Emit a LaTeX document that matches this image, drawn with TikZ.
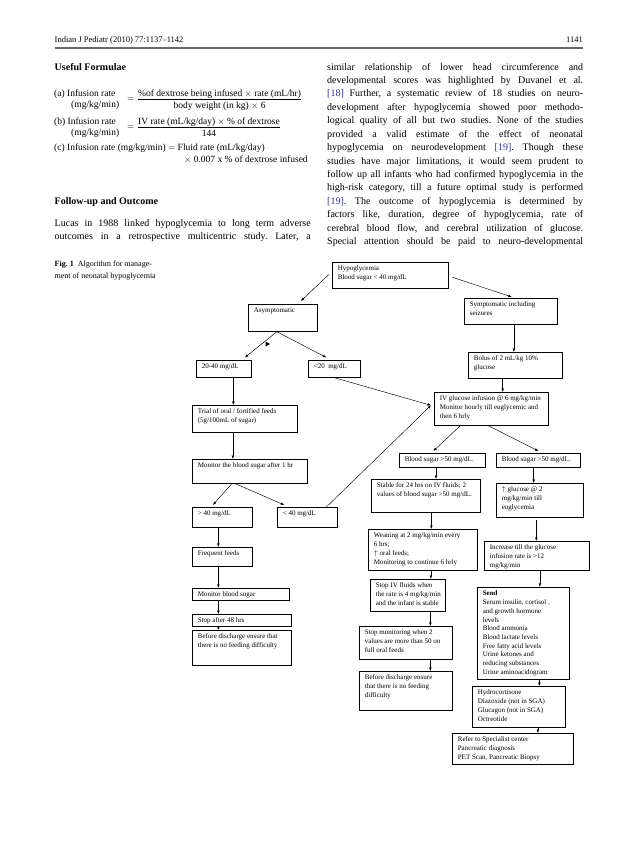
\documentclass[tikz,border=0pt]{standalone}
\usepackage{amsmath}
\usepackage{fontspec}
\setmainfont{Liberation Serif}
\usetikzlibrary{arrows.meta,calc}
\definecolor{CiteBlue}{RGB}{45,45,150}
\definecolor{RuleGray}{RGB}{105,105,105}
\newcommand{\flowfont}{\fontsize{7}{8.7}\selectfont}
\newcommand{\bodyfont}{\fontsize{10}{13.4}\selectfont}
\newcommand{\formfont}{\fontsize{9.5}{11.5}\selectfont}
\frenchspacing
% box text: width, height, lines
\newcommand{\flowtxt}[3]{\parbox[c][\dimexpr #2pt-5pt\relax][t]{\dimexpr #1pt-11pt\relax}{\begin{tabular}[t]{@{}l@{}}#3\end{tabular}}}

\begin{document}
\begin{tikzpicture}[x=1pt, y=-1pt,
    flowbox/.style={rectangle, draw=black, line width=0.7pt, anchor=north west,
        inner xsep=5.5pt, inner ysep=2.5pt, font=\flowfont},
    arr/.style={-{Latex[length=3.5pt, width=2.6pt]}, line width=0.45pt},
    bodyline/.style={anchor=base west, inner sep=0pt, font=\bodyfont},
    formline/.style={anchor=base west, inner sep=0pt, font=\formfont},
    headline/.style={anchor=base west, inner sep=0pt, font=\bodyfont\bfseries},
]
\fill[white] (0,0) rectangle (638,848);
\useasboundingbox (0,0) rectangle (638,848);

% running head
\node[anchor=base west, inner sep=0pt, font=\fontsize{8.5}{10}\selectfont] (runhead) at (54.5,42.5) {Indian J Pediatr (2010) 77:1137--1142};
\node[anchor=base east, inner sep=0pt, font=\fontsize{8.5}{10}\selectfont] (pageno) at (583,42.5) {1141};
\draw[RuleGray, line width=1.3pt] (runhead.base west |- 0,48) -- (pageno.base east |- 0,48);

% left column
\node[headline] (formhead) at (54.5,70.2) {Useful Formulae};
\node[formline] (fa1) at (54,96.2) {(a) Infusion rate};
\node[formline] (fa2) at (71,107.4) {(mg/kg/min)};
\node[formline] (fa3) at (127,101.9) {$=\dfrac{\text{\%of dextrose being infused $\times$ rate (mL/hr)}}{\text{body weight (in kg) $\times$ 6}}$};
\node[formline] (fb1) at (54,124.2) {(b) Infusion rate};
\node[formline] (fb2) at (71,135.2) {(mg/kg/min)};
\node[formline] (fb3) at (127,129.9) {$=\dfrac{\text{IV rate (mL/kg/day) $\times$ \% of dextrose}}{\text{144}}$};
\node[formline] (fc1) at (54,150.2) {(c) Infusion rate (mg/kg/min) $=$ Fluid rate (mL/kg/day)};
\node[formline] (fc2) at (184,162.2) {$\times$ 0.007 x \% of dextrose infused};

\node[headline] (followhead) at (54.5,204.2) {Follow-up and Outcome};
\node[bodyline] (l1) at (54.5,226.5) {\makebox[256pt][s]{Lucas in 1988 linked hypoglycemia to long term adverse}};
\node[bodyline] (l2) at (54.5,239.9) {\makebox[256pt][s]{outcomes in a retrospective multicentric study. Later, a}};

\node[anchor=base west, inner sep=0pt, font=\fontsize{8}{10}\selectfont] (cap1) at (54.5,266) {\textbf{Fig. 1}\ \ Algorithm for manage-};
\node[anchor=base west, inner sep=0pt, font=\fontsize{8}{10}\selectfont] (cap2) at (54.5,278) {ment of neonatal hypoglycemia};

% right column
\foreach \ln [count=\i] in {
    {similar relationship of lower head circumference and},
    {developmental scores was highlighted by Duvanel et al.},
    {{\color{CiteBlue}[18]} Further, a systematic review of 18 studies on neuro-},
    {development after hypoglycemia showed poor methodo-},
    {logical quality of all but two studies. None of the studies},
    {provided a valid estimate of the effect of neonatal},
    {hypoglycemia on neurodevelopment {\color{CiteBlue}[19]}. Though these},
    {studies have major limitations, it would seem prudent to},
    {follow up all infants who had confirmed hypoglycemia in the},
    {high-risk category, till a future optimal study is performed},
    {{\color{CiteBlue}[19]}. The outcome of hypoglycemia is determined by},
    {factors like, duration, degree of hypoglycemia, rate of},
    {cerebral blood flow, and cerebral utilization of glucose.},
    {Special attention should be paid to neuro-developmental}}
    \node[bodyline] (r\i) at (327,{70.2+13.4*(\i-1)}) {\makebox[256pt][s]{\ln}};

% flowchart
\node[flowbox] (hypo) at (332,262) {\flowtxt{116}{26}{Hypoglycemia\\Blood sugar < 40 mg/dL}};
\node[flowbox] (asym) at (248,304) {\flowtxt{69}{27}{Asymptomatic}};
\node[flowbox] (symp) at (464,298) {\flowtxt{93}{26}{Symptomatic including\\seizures}};
\node[flowbox] (b2040) at (196,360) {\flowtxt{55}{17}{20-40 mg/dL}};
\node[flowbox] (lt20) at (308,360) {\flowtxt{52}{17}{<20\ \ mg/dL}};
\node[flowbox] (bolus) at (468,352) {\flowtxt{94}{26}{Bolus of 2 mL/kg 10\%\\glucose}};
\node[flowbox] (iv) at (434,392) {\flowtxt{114}{33}{IV glucose infusion @ 6 mg/kg/min\\Monitor hourly till euglycemic and\\then 6 hrly}};
\node[flowbox] (trial) at (192,405) {\flowtxt{105}{27}{Trial of oral / fortified feeds\\(5g/100mL of sugar)}};
\node[flowbox] (mon1) at (192,459) {\flowtxt{115}{24}{Monitor the blood sugar after 1 hr}};
\node[flowbox] (bsl) at (399,453) {\flowtxt{86}{14}{Blood sugar >50 mg/dL.}};
\node[flowbox] (bsr) at (496,453) {\flowtxt{84}{14}{Blood sugar >50 mg/dL.}};
\node[flowbox] (stable) at (371,479) {\flowtxt{109}{33}{Stable for 24 hrs on IV fluids; 2\\values of blood sugar >50 mg/dL.}};
\node[flowbox] (upglu) at (496,483) {\flowtxt{87}{34}{$\uparrow$ glucose @ 2\\mg/kg/min till\\euglycemia}};
\node[flowbox] (gt40) at (192,507) {\flowtxt{60}{20}{> 40 mg/dL}};
\node[flowbox] (lt40) at (277,507) {\flowtxt{60}{20}{< 40 mg/dL}};
\node[flowbox] (wean) at (368,529) {\flowtxt{109}{41}{Weaning at 2 mg/kg/min every\\6 hrs;\\$\uparrow$ oral feeds;\\Monitoring to continue 6 hrly}};
\node[flowbox] (incr) at (484,541) {\flowtxt{105}{29}{Increase till the glucose\\infusion rate is >12\\mg/kg/min}};
\node[flowbox] (freq) at (192,547) {\flowtxt{60}{19}{Frequent feeds}};
\node[flowbox] (monbs) at (192,588) {\flowtxt{97}{12}{Monitor blood sugar}};
\node[flowbox] (stopiv) at (370,579) {\flowtxt{75}{32}{Stop IV fluids when\\the rate is 4 mg/kg/min\\and the infant is stable}};
\node[flowbox] (send) at (477,587) {\flowtxt{92}{92}{\textbf{Send}\\Serum insulin, cortisol ,\\and growth hormone\\levels\\Blood ammonia\\Blood lactate levels\\Free fatty acid levels\\Urine ketones and\\reducing substances\\Urine aminoacidogram}};
\node[flowbox] (stop48) at (192,614) {\flowtxt{99}{12}{Stop after 48 hrs}};
\node[flowbox] (before1) at (192,630) {\flowtxt{99}{35}{Before discharge ensure that\\there is no feeding difficulty}};
\node[flowbox] (stopmon) at (359,626) {\flowtxt{93}{33}{Stop monitoring when 2\\values are more than 50 on\\full oral feeds}};
\node[flowbox] (before2) at (359,671) {\flowtxt{93}{39}{Before discharge ensure\\that there is no feeding\\difficulty}};
\node[flowbox] (hydro) at (472,686) {\flowtxt{93}{41}{Hydrocortisone\\Diazoxide (not in SGA)\\Glucagon (not in SGA)\\Octreotide}};
\node[flowbox] (refer) at (452,733) {\flowtxt{121}{31}{Refer to Specialist center\\Pancreatic diagnosis\\PET Scan, Pancreatic Biopsy}};

% connectors
\draw[arr] ($(hypo.west)+(-3,-1)$) -- ($(asym.north)+(18,-3)$);
\draw[arr] ($(hypo.east)+(4,2)$) -- ($(symp.north)+(1,-1)$);
\draw[arr] ($(asym.south)+(-6,0)$) -- ($(b2040.north)+(21,-2.5)$);
\draw[arr] ($(asym.south)+(-6,0)$) -- ($(lt20.north)+(-8,-2.5)$);
\fill (265.5,341.5) -- (270,344) -- (265.5,346.5) -- cycle;
\draw[arr] (lt20.south) -- ($(iv.west)+(-3,-3.5)$);
\draw[arr] ($(lt40.north)+(19,0)$) -- ($(iv.west)+(-3,-3.5)$);
\draw[arr] ([xshift=9.5pt]b2040.south) -- ([xshift=9.5pt]b2040.south |- trial.north);
\draw[arr] ([xshift=-12pt]trial.south) -- ([xshift=-12pt]trial.south |- mon1.north);
\draw[arr] ([xshift=-18pt]mon1.south) -- ($(gt40.north)+(-9.5,-2)$);
\draw[arr] ([xshift=-14.5pt]mon1.south) -- ($(lt40.north)+(-23,-2)$);
\draw[arr] ([xshift=-4pt]gt40.south) -- ([xshift=-4pt]gt40.south |- freq.north);
\draw[arr] ([xshift=-4pt]freq.south) -- ([xshift=-4pt]freq.south |- monbs.north);
\draw[arr] ([xshift=-22.5pt]monbs.south) -- ([xshift=-22.5pt]monbs.south |- stop48.north);
\draw[arr] ([xshift=-23.5pt]stop48.south) -- ([xshift=-23.5pt]stop48.south |- before1.north);
\draw[arr] ([xshift=3pt]symp.south) -- ([xshift=3pt]symp.south |- bolus.north);
\draw[arr] ([xshift=-12.7pt]bolus.south) -- ([xshift=-12.7pt]bolus.south |- iv.north);
\draw[arr] ([xshift=-31pt]iv.south) -- ($(bsl.north)+(-9,-2)$);
\draw[arr] ([xshift=-3pt]iv.south) -- ($(bsr.north)+(0,-2)$);
\draw[arr] ([xshift=-6.3pt]bsl.south) -- ([xshift=-6.3pt]bsl.south |- stable.north);
\draw[arr] ([xshift=5.5pt]stable.south) -- ([xshift=5.5pt]stable.south |- wean.north);
\draw[arr] ([xshift=8pt]wean.south) -- ([xshift=8pt]wean.south |- stopiv.north);
\draw[arr] ([xshift=22.5pt]stopiv.south) -- ([xshift=22.5pt]stopiv.south |- stopmon.north);
\draw[arr] ([xshift=24.5pt]stopmon.south) -- ([xshift=24.5pt]stopmon.south |- before2.north);
\draw[arr] ([xshift=-4.7pt]bsr.south) -- ([xshift=-4.7pt]bsr.south |- upglu.north);
\draw[arr] ([xshift=-3.5pt,yshift=-2.5pt]upglu.south) -- ([xshift=-3.5pt]upglu.south |- incr.north);
\draw[arr] ([xshift=3pt]incr.south) -- ([xshift=3pt]incr.south |- send.north);
\draw[arr] ([xshift=16pt]send.south) -- ([xshift=16pt]send.south |- hydro.north);
\draw[arr] ([xshift=19pt]hydro.south) -- ([xshift=19pt]hydro.south |- refer.north);
\end{tikzpicture}
\end{document}
